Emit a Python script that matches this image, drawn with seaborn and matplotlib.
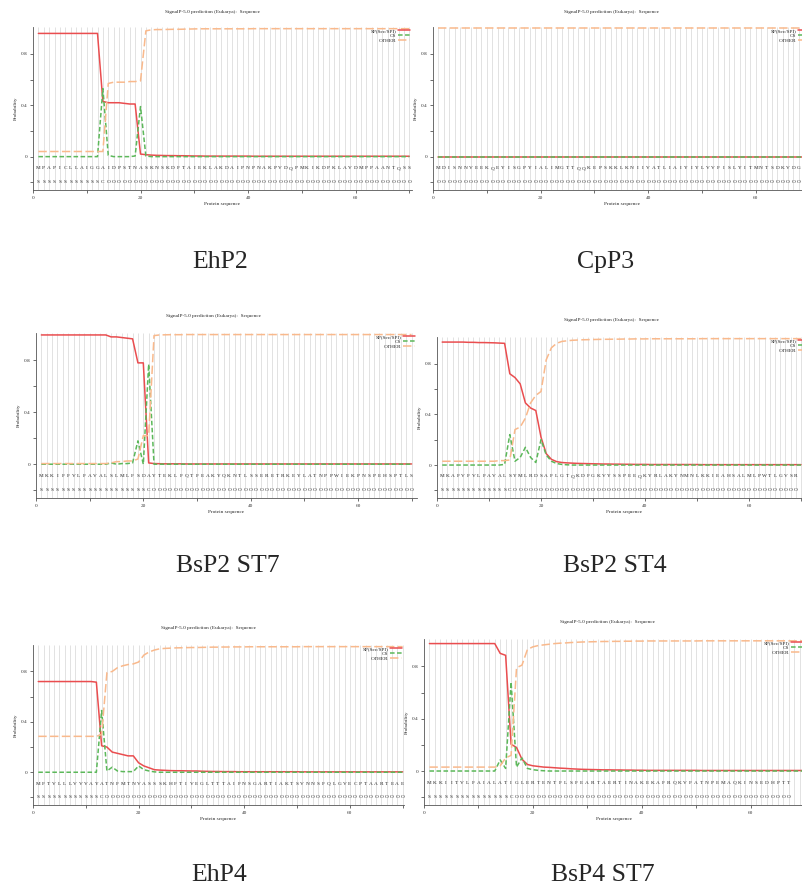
"""Six SignalP-5.0 prediction panels (EhP2, CpP3, BsP2 ST7, BsP2 ST4, EhP4, BsP4 ST7)."""

import matplotlib

matplotlib.use("Agg")
import matplotlib.pyplot as plt
import seaborn as sns

sns.set_theme(style="white")
plt.rcParams["font.family"] = ["Liberation Serif", "DejaVu Serif"]

FIG_W, FIG_H = 802, 888

# ---------------------------------------------------------------- data
NAMES = ["EhP2", "CpP3", "BsP2 ST7", "BsP2 ST4", "EhP4", "BsP4 ST7"]

SEQS = [
    "MPAPICLLAIGGAIDPSTNASKNSKDFTAIEKLAKDAIPNPNAKPVDQPMKIKDPKLAVDMPPAANTQSS",
    "MDISNNVEEKQEYISGPYIALIMGTTQQKEPSKKLKNIIVATLIAIYIYLVVFISLYITMNTSDKVDGEK",
    "MKKIFFVLFAVALSLMLFSDAYTEKLFQTFEAKYQKNTLSSERETRKEYLATNPPWIEKPNSPEHSPTLS",
    "MKAFVFVLFAVALSYMLRDSAFLGTQKDFGKVYSSPEEQKYRLAKYNMNLKKIEAHSALMLPWTLGVSRE",
    "MFTVLLLVVVAYATNFMTNVASSSKHFTIVEGLTTTAIFNSGARTIAKTSVNNSFQLGVECPTAARTEAE",
    "MKKIITVLFAIALATIGLERTENTFLSFEARTAERTINAKEKAFRQKVFATNPEMAQKINSEDHPTTVNA",
]

LABELS = [
    "SSSSSSSSSS" "SSCOOOOOOO" "OOOOOOOOOO" "OOOOOOOOOO" "OOOOOOOOOO" "OOOOOOOOOO" "OOOOOOOOOO",
    "OOOOOOOOOO" "OOOOOOOOOO" "OOOOOOOOOO" "OOOOOOOOOO" "OOOOOOOOOO" "OOOOOOOOOO" "OOOOOOOOOO",
    "SSSSSSSSSS" "SSSSSSSSSS" "COOOOOOOOO" "OOOOOOOOOO" "OOOOOOOOOO" "OOOOOOOOOO" "OOOOOOOOOO",
    "SSSSSSSSSS" "SSSCOOOOOO" "OOOOOOOOOO" "OOOOOOOOOO" "OOOOOOOOOO" "OOOOOOOOOO" "OOOOOOOOOO",
    "SSSSSSSSSS" "SSCOOOOOOO" "OOOOOOOOOO" "OOOOOOOOOO" "OOOOOOOOOO" "OOOOOOOOOO" "OOOOOOOOOO",
    "SSSSSSSSSS" "SSSSSCOOOO" "OOOOOOOOOO" "OOOOOOOOOO" "OOOOOOOOOO" "OOOOOOOOOO" "OOOOOOOOOO",
]

EHP2_SP = [
    0.96, 0.96, 0.96, 0.96, 0.96, 0.96, 0.96, 0.96, 0.96, 0.96,
    0.96, 0.96, 0.43, 0.42, 0.42, 0.42, 0.415, 0.41, 0.41, 0.02,
    0.015, 0.012, 0.01, 0.009, 0.008, 0.008, 0.007, 0.007, 0.006, 0.005,
    0.005, 0.004, 0.004, 0.004, 0.004, 0.004, 0.004, 0.004, 0.004, 0.004,
    0.003, 0.003, 0.003, 0.003, 0.003, 0.003, 0.003, 0.003, 0.003, 0.003,
    0.003, 0.003, 0.003, 0.003, 0.003, 0.003, 0.003, 0.003, 0.003, 0.003,
    0.003, 0.003, 0.003, 0.003, 0.003, 0.003, 0.003, 0.003, 0.003, 0.003,
]
EHP2_CS = [
    0.0, 0.0, 0.0, 0.0, 0.0, 0.0, 0.0, 0.0, 0.0, 0.0,
    0.0, 0.0, 0.53, 0.01, 0.0, 0.0, 0.0, 0.0, 0.005, 0.39,
    0.005, 0.0, 0.0, 0.0, 0.0, 0.0, 0.0, 0.0, 0.0, 0.0,
    0.0, 0.0, 0.0, 0.0, 0.0, 0.0, 0.0, 0.0, 0.0, 0.0,
    0.0, 0.0, 0.0, 0.0, 0.0, 0.0, 0.0, 0.0, 0.0, 0.0,
    0.0, 0.0, 0.0, 0.0, 0.0, 0.0, 0.0, 0.0, 0.0, 0.0,
    0.0, 0.0, 0.0, 0.0, 0.0, 0.0, 0.0, 0.0, 0.0, 0.0,
]
EHP2_OT = [
    0.04, 0.04, 0.04, 0.04, 0.04, 0.04, 0.04, 0.04, 0.04, 0.04,
    0.04, 0.04, 0.04, 0.57, 0.58, 0.58, 0.58, 0.585, 0.585, 0.59,
    0.98, 0.988, 0.99, 0.99, 0.991, 0.992, 0.992, 0.993, 0.994, 0.995,
    0.996, 0.996, 0.996, 0.996, 0.996, 0.996, 0.996, 0.996, 0.996, 0.996,
    0.997, 0.997, 0.997, 0.997, 0.997, 0.997, 0.997, 0.997, 0.997, 0.997,
    0.997, 0.997, 0.997, 0.997, 0.997, 0.997, 0.997, 0.997, 0.997, 0.997,
    0.997, 0.997, 0.997, 0.997, 0.997, 0.997, 0.997, 0.997, 0.997, 0.997,
]

CPP3_SP = [
    0.0, 0.0, 0.0, 0.0, 0.0, 0.0, 0.0, 0.0, 0.0, 0.0,
    0.0, 0.0, 0.0, 0.0, 0.0, 0.0, 0.0, 0.0, 0.0, 0.0,
    0.0, 0.0, 0.0, 0.0, 0.0, 0.0, 0.0, 0.0, 0.0, 0.0,
    0.0, 0.0, 0.0, 0.0, 0.0, 0.0, 0.0, 0.0, 0.0, 0.0,
    0.0, 0.0, 0.0, 0.0, 0.0, 0.0, 0.0, 0.0, 0.0, 0.0,
    0.0, 0.0, 0.0, 0.0, 0.0, 0.0, 0.0, 0.0, 0.0, 0.0,
    0.0, 0.0, 0.0, 0.0, 0.0, 0.0, 0.0, 0.0, 0.0, 0.0,
]
CPP3_CS = [
    0.0, 0.0, 0.0, 0.0, 0.0, 0.0, 0.0, 0.0, 0.0, 0.0,
    0.0, 0.0, 0.0, 0.0, 0.0, 0.0, 0.0, 0.0, 0.0, 0.0,
    0.0, 0.0, 0.0, 0.0, 0.0, 0.0, 0.0, 0.0, 0.0, 0.0,
    0.0, 0.0, 0.0, 0.0, 0.0, 0.0, 0.0, 0.0, 0.0, 0.0,
    0.0, 0.0, 0.0, 0.0, 0.0, 0.0, 0.0, 0.0, 0.0, 0.0,
    0.0, 0.0, 0.0, 0.0, 0.0, 0.0, 0.0, 0.0, 0.0, 0.0,
    0.0, 0.0, 0.0, 0.0, 0.0, 0.0, 0.0, 0.0, 0.0, 0.0,
]
CPP3_OT = [
    1.0, 1.0, 1.0, 1.0, 1.0, 1.0, 1.0, 1.0, 1.0, 1.0,
    1.0, 1.0, 1.0, 1.0, 1.0, 1.0, 1.0, 1.0, 1.0, 1.0,
    1.0, 1.0, 1.0, 1.0, 1.0, 1.0, 1.0, 1.0, 1.0, 1.0,
    1.0, 1.0, 1.0, 1.0, 1.0, 1.0, 1.0, 1.0, 1.0, 1.0,
    1.0, 1.0, 1.0, 1.0, 1.0, 1.0, 1.0, 1.0, 1.0, 1.0,
    1.0, 1.0, 1.0, 1.0, 1.0, 1.0, 1.0, 1.0, 1.0, 1.0,
    1.0, 1.0, 1.0, 1.0, 1.0, 1.0, 1.0, 1.0, 1.0, 1.0,
]

BSP2ST7_SP = [
    0.995, 0.995, 0.995, 0.995, 0.995, 0.995, 0.995, 0.995, 0.995, 0.995,
    0.995, 0.995, 0.995, 0.98, 0.98, 0.975, 0.97, 0.965, 0.78, 0.78,
    0.01, 0.005, 0.004, 0.003, 0.003, 0.003, 0.003, 0.002, 0.002, 0.002,
    0.002, 0.002, 0.002, 0.002, 0.002, 0.002, 0.002, 0.002, 0.002, 0.002,
    0.002, 0.002, 0.002, 0.002, 0.002, 0.002, 0.002, 0.002, 0.002, 0.002,
    0.002, 0.002, 0.002, 0.002, 0.002, 0.002, 0.002, 0.002, 0.002, 0.002,
    0.002, 0.002, 0.002, 0.002, 0.002, 0.002, 0.002, 0.002, 0.002, 0.002,
]
BSP2ST7_CS = [
    0.0, 0.0, 0.0, 0.0, 0.0, 0.0, 0.0, 0.0, 0.0, 0.0,
    0.0, 0.0, 0.0, 0.01, 0.0, 0.005, 0.005, 0.01, 0.18, 0.0,
    0.77, 0.0, 0.0, 0.0, 0.0, 0.0, 0.0, 0.0, 0.0, 0.0,
    0.0, 0.0, 0.0, 0.0, 0.0, 0.0, 0.0, 0.0, 0.0, 0.0,
    0.0, 0.0, 0.0, 0.0, 0.0, 0.0, 0.0, 0.0, 0.0, 0.0,
    0.0, 0.0, 0.0, 0.0, 0.0, 0.0, 0.0, 0.0, 0.0, 0.0,
    0.0, 0.0, 0.0, 0.0, 0.0, 0.0, 0.0, 0.0, 0.0, 0.0,
]
BSP2ST7_OT = [
    0.005, 0.005, 0.005, 0.005, 0.005, 0.005, 0.005, 0.005, 0.005, 0.005,
    0.005, 0.005, 0.005, 0.01, 0.02, 0.02, 0.025, 0.025, 0.04, 0.22,
    0.22, 0.99, 0.995, 0.996, 0.997, 0.997, 0.997, 0.998, 0.998, 0.998,
    0.998, 0.998, 0.998, 0.998, 0.998, 0.998, 0.998, 0.998, 0.998, 0.998,
    0.998, 0.998, 0.998, 0.998, 0.998, 0.998, 0.998, 0.998, 0.998, 0.998,
    0.998, 0.998, 0.998, 0.998, 0.998, 0.998, 0.998, 0.998, 0.998, 0.998,
    0.998, 0.998, 0.998, 0.998, 0.998, 0.998, 0.998, 0.998, 0.998, 0.998,
]

BSP2ST4_SP = [
    0.97, 0.97, 0.97, 0.97, 0.97, 0.968, 0.968, 0.966, 0.966, 0.965,
    0.964, 0.962, 0.96, 0.72, 0.69, 0.64, 0.49, 0.45, 0.43, 0.22,
    0.09, 0.045, 0.027, 0.02, 0.017, 0.015, 0.013, 0.012, 0.011, 0.01,
    0.009, 0.008, 0.008, 0.007, 0.007, 0.006, 0.006, 0.005, 0.005, 0.005,
    0.004, 0.004, 0.004, 0.004, 0.004, 0.004, 0.004, 0.004, 0.004, 0.004,
    0.003, 0.003, 0.003, 0.003, 0.003, 0.003, 0.003, 0.003, 0.003, 0.003,
    0.003, 0.003, 0.003, 0.003, 0.003, 0.003, 0.003, 0.003, 0.003, 0.003,
]
BSP2ST4_CS = [
    0.0, 0.0, 0.0, 0.0, 0.0, 0.0, 0.0, 0.0, 0.0, 0.0,
    0.0, 0.0, 0.005, 0.24, 0.03, 0.06, 0.14, 0.06, 0.02, 0.2,
    0.08, 0.03, 0.012, 0.005, 0.002, 0.0, 0.0, 0.0, 0.0, 0.0,
    0.0, 0.0, 0.0, 0.0, 0.0, 0.0, 0.0, 0.0, 0.0, 0.0,
    0.0, 0.0, 0.0, 0.0, 0.0, 0.0, 0.0, 0.0, 0.0, 0.0,
    0.0, 0.0, 0.0, 0.0, 0.0, 0.0, 0.0, 0.0, 0.0, 0.0,
    0.0, 0.0, 0.0, 0.0, 0.0, 0.0, 0.0, 0.0, 0.0, 0.0,
]
BSP2ST4_OT = [
    0.03, 0.03, 0.03, 0.03, 0.03, 0.03, 0.03, 0.03, 0.03, 0.03,
    0.03, 0.035, 0.035, 0.04, 0.28, 0.30, 0.37, 0.49, 0.55, 0.58,
    0.83, 0.925, 0.96, 0.975, 0.98, 0.984, 0.986, 0.988, 0.989, 0.99,
    0.991, 0.992, 0.992, 0.993, 0.993, 0.994, 0.994, 0.995, 0.995, 0.995,
    0.996, 0.996, 0.996, 0.996, 0.996, 0.996, 0.996, 0.996, 0.996, 0.996,
    0.997, 0.997, 0.997, 0.997, 0.997, 0.997, 0.997, 0.997, 0.997, 0.997,
    0.997, 0.997, 0.997, 0.997, 0.997, 0.997, 0.997, 0.997, 0.997, 0.997,
]

EHP4_SP = [
    0.72, 0.72, 0.72, 0.72, 0.72, 0.72, 0.72, 0.72, 0.72, 0.72,
    0.72, 0.715, 0.21, 0.20, 0.16, 0.15, 0.14, 0.13, 0.13, 0.075,
    0.05, 0.035, 0.02, 0.017, 0.015, 0.013, 0.012, 0.012, 0.011, 0.01,
    0.01, 0.008, 0.007, 0.006, 0.006, 0.005, 0.005, 0.005, 0.004, 0.004,
    0.004, 0.004, 0.004, 0.004, 0.004, 0.004, 0.004, 0.004, 0.004, 0.004,
    0.003, 0.003, 0.003, 0.003, 0.003, 0.003, 0.003, 0.003, 0.003, 0.003,
    0.003, 0.003, 0.003, 0.003, 0.003, 0.003, 0.003, 0.003, 0.003, 0.003,
]
EHP4_CS = [
    0.0, 0.0, 0.0, 0.0, 0.0, 0.0, 0.0, 0.0, 0.0, 0.0,
    0.0, 0.0, 0.49, 0.01, 0.04, 0.01, 0.005, 0.005, 0.005, 0.05,
    0.02, 0.01, 0.003, 0.0, 0.0, 0.0, 0.0, 0.0, 0.0, 0.0,
    0.0, 0.0, 0.0, 0.0, 0.0, 0.0, 0.0, 0.0, 0.0, 0.0,
    0.0, 0.0, 0.0, 0.0, 0.0, 0.0, 0.0, 0.0, 0.0, 0.0,
    0.0, 0.0, 0.0, 0.0, 0.0, 0.0, 0.0, 0.0, 0.0, 0.0,
    0.0, 0.0, 0.0, 0.0, 0.0, 0.0, 0.0, 0.0, 0.0, 0.0,
]
EHP4_OT = [
    0.285, 0.285, 0.285, 0.285, 0.285, 0.285, 0.285, 0.285, 0.285, 0.285,
    0.285, 0.285, 0.30, 0.79, 0.80, 0.83, 0.845, 0.855, 0.86, 0.875,
    0.93, 0.955, 0.97, 0.98, 0.983, 0.985, 0.987, 0.988, 0.989, 0.99,
    0.99, 0.991, 0.992, 0.993, 0.993, 0.994, 0.994, 0.995, 0.995, 0.995,
    0.996, 0.996, 0.996, 0.996, 0.996, 0.996, 0.996, 0.996, 0.996, 0.996,
    0.997, 0.997, 0.997, 0.997, 0.997, 0.997, 0.997, 0.997, 0.997, 0.997,
    0.997, 0.997, 0.997, 0.997, 0.997, 0.997, 0.997, 0.997, 0.997, 0.997,
]

BSP4ST7_SP = [
    0.975, 0.975, 0.975, 0.975, 0.975, 0.975, 0.975, 0.975, 0.975, 0.975,
    0.975, 0.975, 0.975, 0.90, 0.885, 0.205, 0.18, 0.09, 0.05, 0.04,
    0.035, 0.03, 0.028, 0.025, 0.022, 0.02, 0.017, 0.015, 0.013, 0.012,
    0.011, 0.01, 0.009, 0.009, 0.008, 0.008, 0.007, 0.007, 0.006, 0.006,
    0.005, 0.005, 0.005, 0.005, 0.005, 0.005, 0.005, 0.005, 0.005, 0.005,
    0.004, 0.004, 0.004, 0.004, 0.004, 0.004, 0.004, 0.004, 0.004, 0.004,
    0.004, 0.004, 0.004, 0.004, 0.004, 0.004, 0.004, 0.004, 0.004, 0.004,
]
BSP4ST7_CS = [
    0.0, 0.0, 0.0, 0.0, 0.0, 0.0, 0.0, 0.0, 0.0, 0.0,
    0.0, 0.0, 0.0, 0.085, 0.02, 0.68, 0.03, 0.10, 0.02, 0.01,
    0.005, 0.002, 0.0, 0.0, 0.0, 0.0, 0.0, 0.0, 0.0, 0.0,
    0.0, 0.0, 0.0, 0.0, 0.0, 0.0, 0.0, 0.0, 0.0, 0.0,
    0.0, 0.0, 0.0, 0.0, 0.0, 0.0, 0.0, 0.0, 0.0, 0.0,
    0.0, 0.0, 0.0, 0.0, 0.0, 0.0, 0.0, 0.0, 0.0, 0.0,
    0.0, 0.0, 0.0, 0.0, 0.0, 0.0, 0.0, 0.0, 0.0, 0.0,
]
BSP4ST7_OT = [
    0.03, 0.03, 0.03, 0.03, 0.03, 0.03, 0.03, 0.03, 0.03, 0.03,
    0.03, 0.03, 0.03, 0.04, 0.10, 0.12, 0.79, 0.81, 0.93, 0.95,
    0.96, 0.965, 0.97, 0.975, 0.978, 0.98, 0.983, 0.985, 0.987, 0.988,
    0.989, 0.99, 0.991, 0.991, 0.992, 0.992, 0.993, 0.993, 0.994, 0.994,
    0.995, 0.995, 0.995, 0.995, 0.995, 0.995, 0.995, 0.995, 0.995, 0.995,
    0.996, 0.996, 0.996, 0.996, 0.996, 0.996, 0.996, 0.996, 0.996, 0.996,
    0.996, 0.996, 0.996, 0.996, 0.996, 0.996, 0.996, 0.996, 0.996, 0.996,
]

SP_SERIES = [EHP2_SP, CPP3_SP, BSP2ST7_SP, BSP2ST4_SP, EHP4_SP, BSP4ST7_SP]
CS_SERIES = [EHP2_CS, CPP3_CS, BSP2ST7_CS, BSP2ST4_CS, EHP4_CS, BSP4ST7_CS]
OT_SERIES = [EHP2_OT, CPP3_OT, BSP2ST7_OT, BSP2ST4_OT, EHP4_OT, BSP4ST7_OT]

TITLE = "SignalP-5.0 prediction (Eukarya):  Sequence"

# ---------------------------------------------------------------- layout (pixels)
# axes box: left, top, right, bottom, pixels per residue
BOXES = [
    (33, 27, 412, 190, 5.375),
    (433, 27, 812, 190, 5.38),
    (36, 333, 417, 498, 5.365),
    (437, 337, 812, 498, 5.2),
    (33, 645, 404, 805, 5.28),
    (424, 639, 805, 805, 5.55),
]
TITLE_XY = [(212, 12), (612, 12), (213, 316), (612, 320), (209, 628), (607, 622)]
CAPTION_XY = [(220, 262), (606, 262), (228, 566), (615, 566), (219, 875), (603, 875)]

SP_COLOR = "#ea4d4f"
CS_COLOR = "#5cb85a"
OT_COLOR = "#f9b98c"
GRID_COLOR = "#dadada"
SMALL = 3.8


def draw_panel(fig, box, seq, lab, sp, cs, ot):
    left, top, right, bottom, ppr = box
    ax = fig.add_axes([left / FIG_W, 1 - bottom / FIG_H,
                       (right - left) / FIG_W, (bottom - top) / FIG_H])
    xmax = (right - left) / ppr
    # residues whose letter still fits inside the 802 px wide picture
    last_visible = (FIG_W - 3 - left) / ppr
    pos = list(range(1, len(sp) + 1))

    ax.vlines(pos, -0.26, 1.01, color=GRID_COLOR, linewidth=0.55, zorder=0)
    sns.lineplot(x=pos, y=sp, ax=ax, color=SP_COLOR, linewidth=1.1,
                 label="SP(Sec/SPI)")
    sns.lineplot(x=pos, y=cs, ax=ax, color=CS_COLOR, linewidth=1.1,
                 linestyle=(0, (3, 1.6)), label="CS")
    sns.lineplot(x=pos, y=ot, ax=ax, color=OT_COLOR, linewidth=1.1,
                 linestyle=(0, (5.5, 2.2)), label="OTHER")

    for p, ch, lb in zip(pos, seq, lab):
        if p > min(xmax, last_visible):
            break
        ax.text(p, -0.09, ch, ha="center", va="center", fontsize=SMALL)
        ax.text(p, -0.20, lb, ha="center", va="center", fontsize=SMALL)

    ax.set_xlim(0, xmax)
    ax.set_ylim(-0.26, 1.01)
    ax.set_xticks([0, 20, 40, 60])
    ax.set_xticks([10, 30, 50, 70], minor=True)
    ax.set_yticks([-0.2, 0, 0.2, 0.4, 0.6, 0.8])
    ax.set_yticklabels(["", "0", "", "0.4", "", "0.8"])
    ax.tick_params(axis="both", which="both", direction="out", length=2.5,
                   width=0.5, colors="#333333", labelsize=SMALL, pad=1.5,
                   bottom=True, left=True)
    ax.set_xlabel("Protein sequence", fontsize=SMALL, labelpad=1.5)
    ax.set_ylabel("Probability", fontsize=SMALL, labelpad=2)
    for side in ("top", "right"):
        ax.spines[side].set_visible(False)
    for side in ("left", "bottom"):
        ax.spines[side].set_color("#555555")
        ax.spines[side].set_linewidth(0.6)

    ax.legend(loc="upper right", frameon=False, markerfirst=False,
              fontsize=SMALL, handlelength=2.3, handletextpad=0.4,
              labelspacing=0.05, borderaxespad=0.1, borderpad=0.2)
    return ax


fig = plt.figure(figsize=(FIG_W / 100, FIG_H / 100), dpi=100)
fig.patch.set_facecolor("white")

for i in range(6):
    draw_panel(fig, BOXES[i], SEQS[i], LABELS[i],
               SP_SERIES[i], CS_SERIES[i], OT_SERIES[i])
    tx, ty = TITLE_XY[i]
    fig.text(tx / FIG_W, 1 - ty / FIG_H, TITLE, ha="center", va="center",
             fontsize=SMALL)
    cx, cy = CAPTION_XY[i]
    fig.text(cx / FIG_W, 1 - cy / FIG_H, NAMES[i], ha="center", va="center",
             fontsize=18.5)

fig.savefig("out.png", dpi=100)
plt.close(fig)
